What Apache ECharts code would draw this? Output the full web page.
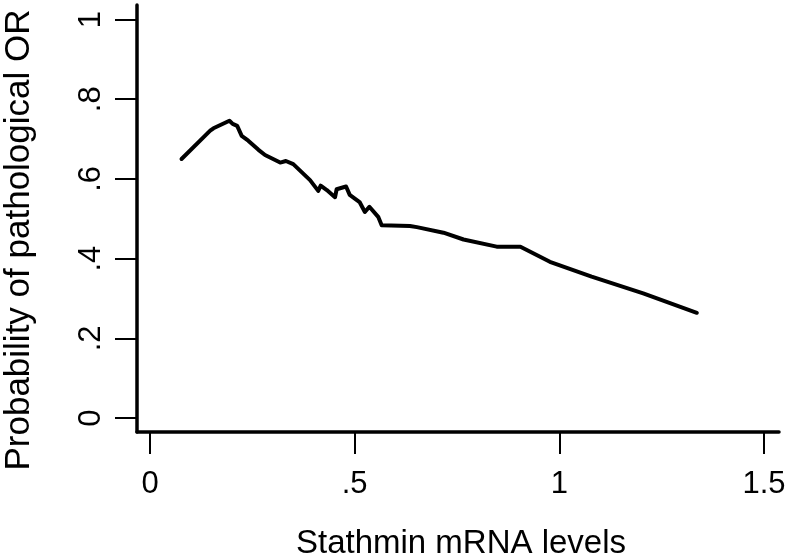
<!DOCTYPE html>
<html>
<head>
<meta charset="utf-8">
<script src="https://cdn.jsdelivr.net/npm/echarts@6/dist/echarts.min.js"></script>
<style>
html,body{margin:0;padding:0;background:#fff;}
#chart{width:792px;height:557px;}
</style>
</head>
<body>
<div id="chart"></div>
<script>
// Stathmin mRNA levels (x) and predicted probability of pathological OR (y)
var stathmin = [0.077, 0.147, 0.155, 0.194, 0.202, 0.213, 0.224, 0.240, 0.265, 0.281,
  0.318, 0.332, 0.350, 0.391, 0.411, 0.417, 0.432, 0.452, 0.456, 0.479,
  0.488, 0.512, 0.525, 0.536, 0.558, 0.566, 0.635, 0.652, 0.717, 0.766,
  0.847, 0.905, 0.977, 1.079, 1.205, 1.336];
var probability = [0.650, 0.721, 0.727, 0.746, 0.738, 0.733, 0.708, 0.696, 0.673, 0.660,
  0.641, 0.645, 0.637, 0.597, 0.570, 0.583, 0.572, 0.554, 0.574, 0.581,
  0.560, 0.542, 0.517, 0.530, 0.504, 0.484, 0.482, 0.479, 0.465, 0.448,
  0.430, 0.430, 0.392, 0.355, 0.313, 0.264];
var xTickValues = [0, 0.5, 1, 1.5];
var xTickLabels = ['0', '.5', '1', '1.5'];
var yTickValues = [0, 0.2, 0.4, 0.6, 0.8, 1];
var yTickLabels = ['0', '.2', '.4', '.6', '.8', '1'];
var xTitle = 'Stathmin mRNA levels';
var yTitle = 'Probability of pathological OR';

var points = stathmin.map(function (x, i) { return [x, probability[i]]; });
function lookup(values, labels) {
  return function (v) {
    for (var i = 0; i < values.length; i++) {
      if (Math.abs(values[i] - v) < 1e-9) return labels[i];
    }
    return '';
  };
}
var font = "'Liberation Sans', Arial, Helvetica, sans-serif";
var chart = echarts.init(document.getElementById('chart'), null, {renderer: 'canvas'});
chart.setOption({
  animation: false,
  backgroundColor: '#ffffff',
  grid: {left: 137, right: 13, top: 5, bottom: 125, containLabel: false, outerBoundsMode: 'none'},
  xAxis: {
    type: 'value', min: -0.0318, max: 1.5368,
    name: xTitle, nameLocation: 'middle', nameGap: 95,
    nameTextStyle: {color: '#000', fontSize: 33, fontFamily: font, padding: [0, 0, 0, 6]},
    axisLine: {show: true, onZero: false, lineStyle: {color: '#000', width: 3.5}},
    axisTick: {show: true, customValues: xTickValues, length: 22, lineStyle: {color: '#000', width: 2}},
    axisLabel: {show: true, customValues: xTickValues, formatter: lookup(xTickValues, xTickLabels),
      color: '#000', fontSize: 31, fontFamily: font, margin: 37},
    splitLine: {show: false}
  },
  yAxis: {
    type: 'value', min: -0.0351, max: 1.0364,
    name: yTitle, nameLocation: 'middle', nameGap: 100,
    nameTextStyle: {color: '#000', fontSize: 35, fontFamily: font, padding: [0, 43, 0, 0]},
    axisLine: {show: true, onZero: false, lineStyle: {color: '#000', width: 3.5}},
    axisTick: {show: true, customValues: yTickValues, length: 22, lineStyle: {color: '#000', width: 2}},
    axisLabel: {show: true, customValues: yTickValues, formatter: lookup(yTickValues, yTickLabels),
      rotate: 90, color: '#000', fontSize: 31, fontFamily: font, margin: 30},
    splitLine: {show: false}
  },
  series: [{
    type: 'line', data: points, showSymbol: false, symbol: 'none',
    lineStyle: {color: '#000', width: 4, join: 'round', cap: 'round'},
    z: 3
  }]
});
</script>
</body>
</html>
